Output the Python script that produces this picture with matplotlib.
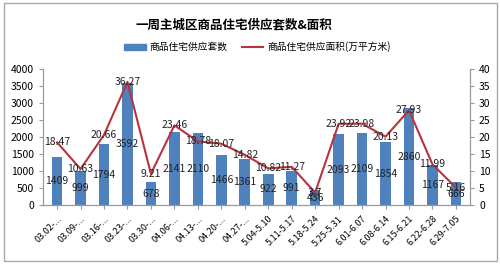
import matplotlib.pyplot as plt
import numpy as np
from matplotlib.patches import Rectangle

plt.rcParams['font.family'] = ['Noto Sans CJK SC', 'DejaVu Sans']

weeks = ['03.02-...', '03.09-...', '03.16-...', '03.23-...', '03.30-...', '04.06-...',
         '04.13-...', '04.20-...', '04.27-...', '5.04-5.10', '5.11-5.17', '5.18-5.24',
         '5.25-5.31', '6.01-6.07', '6.08-6.14', '6.15-6.21', '6.22-6.28', '6.29-7.05']
units = [1409, 999, 1794, 3592, 678, 2141, 2110, 1466, 1361, 922, 991, 436,
         2093, 2109, 1854, 2860, 1167, 666]
area = [18.47, 10.63, 20.66, 36.27, 9.21, 23.46, 18.78, 18.07, 14.82, 10.82, 11.27, 3.7,
        23.92, 23.98, 20.13, 27.93, 11.99, 5.16]

bar_color = '#4F81BD'
line_color = '#B8343D'

fig = plt.figure(figsize=(5, 2.64), dpi=100)
ax = fig.add_axes([0.086, 0.223, 0.854, 0.515])
x = np.arange(len(weeks))

ax.bar(x, units, width=0.45, color=bar_color, zorder=2)
ax.set_ylim(0, 4000)
ax.set_yticks(range(0, 4001, 500))
ax.set_xlim(-0.6, len(weeks) - 0.4)
ax.set_xticks(x)
ax.set_xticklabels(weeks, rotation=45, ha='right', rotation_mode='anchor', fontsize=6.5)
ax.tick_params(axis='y', labelsize=7.5, length=3, color='#999999')
ax.tick_params(axis='x', length=3, color='#999999')

ax2 = ax.twinx()
ax2.plot(x, area, color=line_color, lw=1.5, zorder=3)
ax2.set_ylim(0, 40)
ax2.set_yticks(range(0, 41, 5))
ax2.tick_params(axis='y', labelsize=7.5, length=3, color='#999999')

for a in (ax, ax2):
    a.spines['top'].set_visible(False)
    for s in ('left', 'right', 'bottom'):
        a.spines[s].set_color('#999999')
        a.spines[s].set_linewidth(0.8)

for xi, v in zip(x, units):
    ax.text(xi, v / 2, str(v), ha='center', va='center', fontsize=7.5, color='#222222', zorder=4)
for xi, v in zip(x, area):
    ax2.text(xi, v, f'{v:g}', ha='center', va='center', fontsize=7.5, color='#222222', zorder=4)

fig.text(0.468, 0.905, '一周主城区商品住宅供应套数&面积', ha='center', va='center',
         fontsize=9, fontweight='bold')

h1 = plt.Rectangle((0, 0), 1, 1, color=bar_color)
h2, = plt.plot([], [], color=line_color, lw=1.5)
fig.legend([h1, h2], ['商品住宅供应套数', '商品住宅供应面积(万平方米)'],
           loc='center', bbox_to_anchor=(0.515, 0.822), ncol=2, frameon=False,
           fontsize=7, handlelength=2.2, handleheight=0.6, columnspacing=1.5,
           handletextpad=0.4)

fig.patches.append(Rectangle((0.008, 0.012), 0.985, 0.975, transform=fig.transFigure,
                             fill=False, edgecolor='#AAAAAA', lw=1))

fig.savefig('out.png', dpi=100)
